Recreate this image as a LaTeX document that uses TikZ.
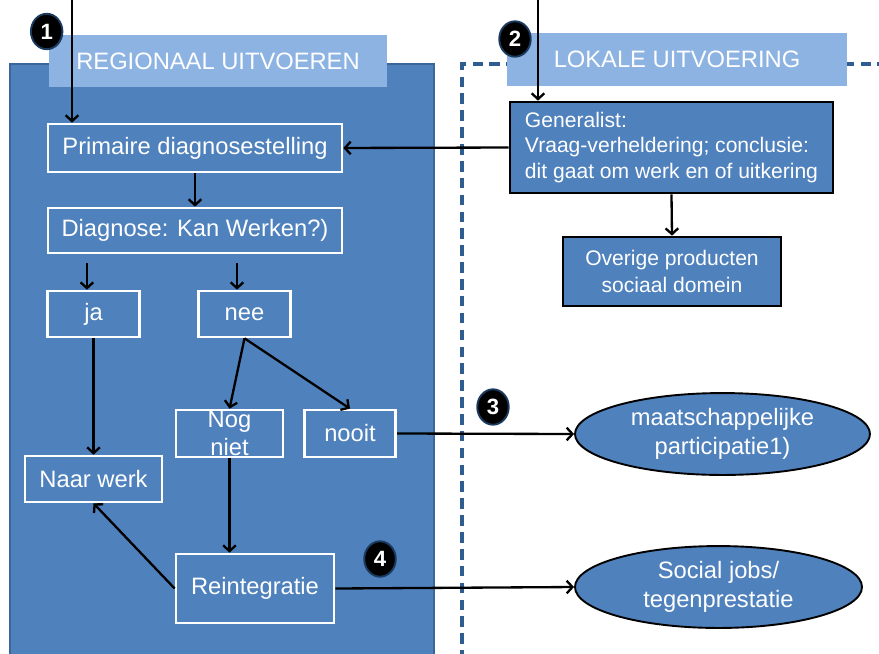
\documentclass[tikz,border=0pt]{standalone}
\usepackage{fontspec}
\setmainfont{Liberation Sans}
\usetikzlibrary{shapes.geometric,arrows.meta}

\definecolor{panelblue}{HTML}{4F81BD}
\definecolor{titleblue}{HTML}{8DB3E2}
\definecolor{paneledge}{HTML}{3A6699}
\definecolor{dashblue}{HTML}{2F5D8F}
\definecolor{badgeedge}{HTML}{1B3A60}

\def\choicewidth{3.05cm}

\begin{document}
\begin{tikzpicture}[->,>={Straight Barb[length=5.5pt,width=12pt]},line width=2.2pt]
    \tikzstyle{title}=[fill=titleblue,text=white,minimum height=1.75cm,inner sep=0pt,font=\fontsize{22.5}{27}\selectfont]
    \tikzstyle{wbox}=[draw=white,line width=2.5pt,fill=panelblue,text=white,inner sep=0pt,font=\fontsize{22.5}{27}\selectfont]
    \tikzstyle{kbox}=[wbox,draw=black,font=\fontsize{20}{24.5}\selectfont]
    \tikzstyle{outcome}=[ellipse,draw=black,line width=1.8pt,fill=panelblue,text=white,inner sep=0pt,minimum height=2.73cm,align=center,font=\fontsize{22.5}{27}\selectfont]
    \tikzstyle{badge}=[ellipse,fill=black,draw=badgeedge,line width=1.8pt,text=white,minimum width=1.05cm,minimum height=1.18cm,inner sep=0pt,font=\fontsize{21}{24}\selectfont\bfseries]

    \useasboundingbox (0,0) rectangle (29.3,-21.8);

    % panels
    \draw[-,fill=panelblue,draw=paneledge,line width=2pt] (0.333,-2.133) rectangle (14.467,-22.5);
    \draw[-,dashblue,line width=3pt,dash pattern=on 10pt off 6pt] (29.6,-2.133) -- (15.4,-2.133) -- (15.4,-22.5);
    \node[title,minimum width=11.27cm] (regionaal) at (7.267,-2.033) {REGIONAAL UITVOEREN};
    \node[title,minimum width=11.33cm] (lokaal) at (22.567,-1.983) {LOKALE UITVOERING};

    % regionaal
    \node[wbox,minimum width=9.8cm,minimum height=1.6cm] (primair) at (6.5,-4.933) {Primaire diagnosestelling};
    \node[wbox,minimum width=9.8cm,minimum height=1.5cm] (diagnose) at (6.5,-7.683) {Diagnose: Kan Werken?)};
    \node[wbox,minimum width=\choicewidth,minimum height=1.533cm] (ja) at (3.117,-10.467) {ja};
    \node[wbox,minimum width=\choicewidth,minimum height=1.533cm] (nee) at (8.15,-10.467) {nee};
    \node[wbox,minimum width=4.567cm,minimum height=1.533cm] (werk) at (3.117,-15.967) {Naar werk};
    \node[wbox,minimum width=3.567cm,minimum height=1.567cm,align=center] (nognniet) at (7.65,-14.45) {Nog\\niet};
    \node[wbox,minimum width=\choicewidth,minimum height=1.567cm] (nooit) at (11.667,-14.45) {nooit};
    \node[wbox,minimum width=5.267cm,minimum height=2.3cm] (reint) at (8.5,-19.617) {Reintegratie};

    % lokaal
    \node[kbox,minimum width=10.767cm,minimum height=3.033cm,align=left] (generalist) at (22.383,-4.917) {Generalist:\\Vraag-verheldering; conclusie:\\dit gaat om werk en of uitkering};
    \node[kbox,minimum width=7.267cm,minimum height=2.3cm,align=center,font=\fontsize{20}{25}\selectfont] (overig) at (22.4,-9.05) {Overige producten\\sociaal domein};
    \node[outcome,minimum width=9.833cm] (participatie) at (24.083,-14.467) {maatschappelijke\\participatie1)};
    \node[outcome,minimum width=9.567cm] (socialjobs) at (23.95,-19.567) {Social jobs/\\tegenprestatie};

    \coordinate (in1) at (2.4,0);
    \coordinate (in2) at (17.933,0);
    \coordinate (ja-in) at ([xshift=-0.22cm]ja.north);
    \coordinate (nee-in) at ([xshift=-0.25cm]nee.north);

    \path (in1) edge (in1 |- primair.north);
    \path (in2) edge (in2 |- generalist.north);
    \path (generalist.west) edge (primair.east);
    \path (primair.south) edge (diagnose.north);
    \foreach \dest in {ja-in,nee-in}
        \path (\dest |- diagnose.south) edge[shorten <=0.3cm] (\dest);
    \path (ja.south) edge (werk.north);
    \foreach \dest in {nognniet,nooit}
        \path (nee.south) edge (\dest.north);
    \path (nognniet.south) edge (reint.north -| nognniet.south);
    \path (reint.west) edge (werk.south);
    \path (nooit.east) edge (participatie.west);
    \path (reint.east) edge (socialjobs.west);
    \path (generalist.south) edge (overig.north);

    \foreach \num/\x/\y in {1/1.556/-1.05, 2/17.167/-1.3, 3/16.433/-13.567, 4/12.667/-18.633}
        \node[badge] (badge-\num) at (\x,\y) {\num};
\end{tikzpicture}
\end{document}
